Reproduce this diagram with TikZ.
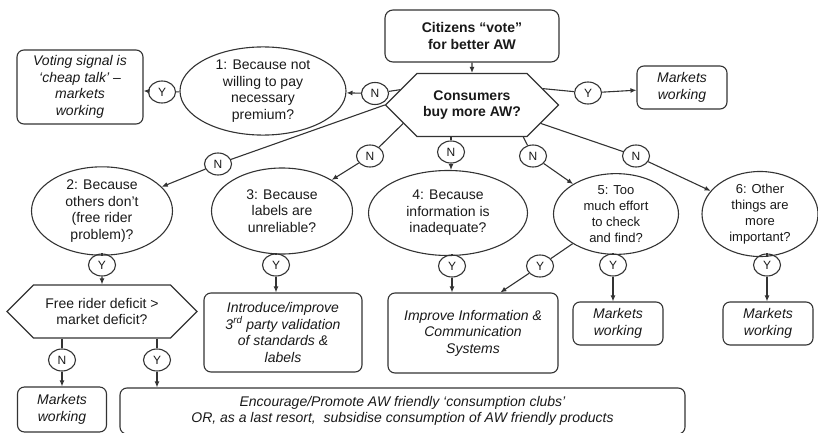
\documentclass[tikz,border=0pt]{standalone}
\usepackage{fontspec}
\setmainfont{Liberation Sans}
\usetikzlibrary{shapes.geometric,shapes.symbols,arrows.meta}
\newcommand{\awfont}{\fontsize{14}{16.6}\selectfont}
\newcommand{\awsmall}{\fontsize{13}{16}\selectfont}

\begin{document}
\begin{tikzpicture}
[x=1pt,y=-1pt, % 1 px = 1 pt
line width=1.1pt, draw=black!80, text=black!90,
font=\awfont,
start/.style={draw, rounded corners=8pt, align=center, inner sep=0pt, font=\awfont\bfseries}, % top box
hexa/.style={signal, signal to=east and west, draw, align=center, inner sep=0pt}, % question
why/.style={ellipse, draw, align=center, inner sep=0pt}, % reasons
outcome/.style={draw, rounded corners=7pt, align=center, inner sep=0pt, font=\awfont\itshape}, % results
yn/.style={ellipse, draw, minimum width=27pt, minimum height=22pt, inner sep=0pt, font=\fontsize{12}{12}\selectfont}, % Y / N
arr/.style={-{Latex[length=6pt,width=5pt]}}
]
\useasboundingbox (0,0) rectangle (818,433);

% first row
\node[start, minimum width=174pt, minimum height=52pt] (cit) at (472,36) {Citizens “vote”\\for better AW};
\node[hexa, minimum width=173pt, minimum height=63pt, font=\awfont\bfseries] (buy) at (472,105) {Consumers\\buy more AW?};
\node[why, minimum width=166pt, minimum height=82pt] (why1) at (263,91) {1: Because not\\willing to pay\\necessary\\premium?};
\node[outcome, minimum width=126pt, minimum height=74pt] (vote) at (80,87) {Voting signal is\\‘cheap talk’ –\\markets\\working};
\node[outcome, minimum width=90pt, minimum height=43pt] (mkt0) at (682,87.5) {Markets\\working};
\node[yn] (n1) at (375,93.5) {N};
\node[yn] (y1) at (162,92) {Y};
\node[yn] (y0) at (588,93) {Y};

% second row
\node[yn] (n2) at (218,164) {N};
\node[yn] (n3) at (370,156) {N};
\node[yn] (n4) at (451,152) {N};
\node[yn] (n5) at (533,156) {N};
\node[yn] (n6) at (636,156) {N};
\node[why, minimum width=141pt, minimum height=87pt] (why2) at (102,211) {2: Because\\others don’t\\(free rider\\problem)?};
\node[why, minimum width=141pt, minimum height=86pt] (why3) at (282,211) {3: Because\\labels are\\unreliable?};
\node[why, minimum width=159pt, minimum height=85pt] (why4) at (448,213) {4: Because\\information is\\inadequate?};
\node[why, minimum width=125pt, minimum height=64pt, font=\awsmall] (why5) at (616,214) {5: Too\\much effort\\to check\\and find?};
\node[why, minimum width=116pt, minimum height=64pt, font=\awsmall] (why6) at (760,214) {6: Other\\things are\\more\\important?};

% third row
\node[yn] (y2) at (102,265) {Y};
\node[yn] (y3) at (276,265) {Y};
\node[yn] (y4) at (452,266) {Y};
\node[yn] (y5b) at (540,266) {Y};
\node[yn] (y5) at (613,265) {Y};
\node[yn] (y6) at (767,265) {Y};
\node[hexa, minimum width=190pt, minimum height=53pt] (free) at (102,311.5) {Free rider deficit >\\market deficit?};
\node[outcome, minimum width=158pt, minimum height=79pt] (intro) at (283,332.5) {Introduce/improve\\3\textsuperscript{rd} party validation\\of standards \&\\labels};
\node[outcome, minimum width=170pt, minimum height=80pt] (info) at (473,333) {Improve Information \&\\Communication\\Systems};
\node[outcome, minimum width=90pt, minimum height=43pt] (mkt5) at (618,323.5) {Markets\\working};
\node[outcome, minimum width=90pt, minimum height=43pt] (mkt6) at (768,323.5) {Markets\\working};

% last row
\node[yn] (nf) at (62,360) {N};
\node[yn] (yf) at (157,360) {Y};
\node[outcome, minimum width=89pt, minimum height=45pt] (mktf) at (62,409.5) {Markets\\working};
\node[outcome, minimum width=565pt, minimum height=46pt] (club) at (402.5,411) {Encourage/Promote AW friendly ‘consumption clubs’\\OR, as a last resort, \ subsidise consumption of AW friendly products};

% connectors
\draw[arr] (cit) -- (buy);
\draw (buy.168) -- (n1); \draw[arr] (n1) -- (why1);
\draw (why1) -- (y1); \draw[arr] (y1) -- (vote);
\draw (buy.13) -- (y0); \draw[arr] (y0) -- (mkt0);
\draw (buy.180) -- (n2); \draw[arr] (n2) -- (why2);
\draw (buy.195) -- (n3); \draw[arr] (n3) -- (why3);
\draw (buy.south -| n4) -- (n4); \draw[arr] (n4) -- (n4 |- why4.north);
\draw (buy.328) -- (n5); \draw[arr] (n5) -- (why5);
\draw (buy.345) -- (n6); \draw[arr] (n6) -- (why6);
\draw (why2) -- (y2); \draw[arr] (y2) -- (free);
\draw (y3 |- why3.south) -- (y3); \draw[arr] (y3) -- (y3 |- intro.north);
\draw (y4 |- why4.south) -- (y4); \draw[arr] (y4) -- (y4 |- info.north);
\draw (why5) -- (y5b); \draw[arr] (y5b) -- (info.56);
\draw (y5 |- why5.south) -- (y5); \draw[arr] (y5) -- (y5 |- mkt5.north);
\draw (y6 |- why6.south) -- (y6); \draw[arr] (y6) -- (y6 |- mkt6.north);
\draw (free.south -| nf) -- (nf); \draw[arr] (nf) -- (mktf);
\draw (free.south -| yf) -- (yf); \draw[arr] (yf) -- (yf |- club.north);
\end{tikzpicture}
\end{document}
